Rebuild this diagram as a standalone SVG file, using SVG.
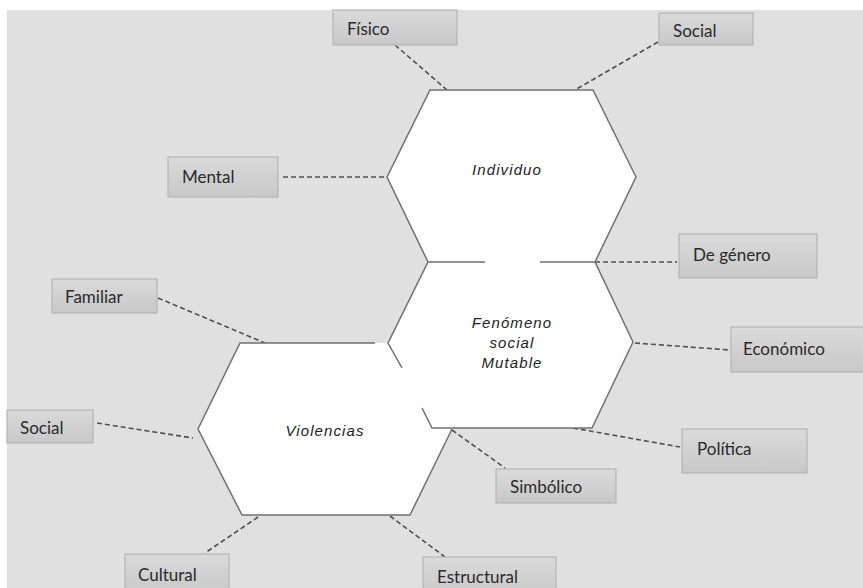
<svg xmlns="http://www.w3.org/2000/svg" width="863" height="588" viewBox="0 0 863 588">
<defs>
<linearGradient id="boxg" x1="0" y1="0" x2="0" y2="1">
<stop offset="0" stop-color="#dadada"/>
<stop offset="1" stop-color="#c8c8c8"/>
</linearGradient>
<style>
.box{fill:url(#boxg);stroke:#b5b5b5;stroke-width:1.2}
.lbl{font-family:Lato,"Open Sans","Liberation Sans",sans-serif;font-size:17px;fill:#2a2a2a}
.hexfill{fill:#ffffff;stroke:none}
.hexline{fill:none;stroke:#707070;stroke-width:1.5;stroke-linejoin:miter}
.hlbl{font-family:"Liberation Sans",Arial,sans-serif;font-style:italic;font-size:15px;fill:#222;text-anchor:middle;letter-spacing:1.1px}
.con{stroke:#505050;stroke-width:1.6;stroke-dasharray:5,3;fill:none}
</style>
</defs>
<rect x="0" y="0" width="863" height="588" fill="#ffffff"/>
<rect x="7" y="10" width="856" height="578" fill="#e0e0e0"/>

<g id="connectors">
<line class="con" x1="395" y1="45" x2="447" y2="90"/>
<line class="con" x1="658" y1="42" x2="575" y2="90"/>
<line class="con" x1="283" y1="177" x2="387" y2="177"/>
<line class="con" x1="595" y1="262" x2="677" y2="262"/>
<line class="con" x1="635" y1="343" x2="730" y2="350"/>
<line class="con" x1="158" y1="298" x2="265" y2="343"/>
<line class="con" x1="97" y1="423" x2="193" y2="438"/>
<line class="con" x1="258" y1="517" x2="205" y2="553"/>
<line class="con" x1="390" y1="516" x2="445" y2="557"/>
<line class="con" x1="452" y1="430" x2="505" y2="468"/>
<line class="con" x1="573" y1="428" x2="680" y2="447"/>
</g>

<g id="violencias">
<polygon class="hexfill" points="240,343 410,343 452,429 410,515 242,515 198,429"/>
</g>
<g id="fenomeno">
<polygon class="hexfill" points="428,262 595,262 633,342 592,428 432,428 388,343"/>
</g>
<g id="individuo">
<polygon class="hexfill" points="430,90 593,90 636,177 595,262 428,262 387,177"/>
</g>

<g id="outlines">
<polyline class="hexline" points="375,343 240,343 198,429 242,515 410,515 452,429"/>
<polyline class="hexline" points="402,368 388,343 428,262 485,262"/>
<polyline class="hexline" points="540,262 595,262 633,342 592,428 432,428 422,408"/>
<polyline class="hexline" points="428,262 387,177 430,90 593,90 636,177 595,262"/>
</g>

<g id="labels-hex">
<text class="hlbl" x="507" y="175">Individuo</text>
<text class="hlbl" x="512" y="328">Fenómeno</text>
<text class="hlbl" x="512" y="348">social</text>
<text class="hlbl" x="512" y="368">Mutable</text>
<text class="hlbl" x="325" y="436">Violencias</text>
</g>

<g id="fisico"><rect class="box" x="333" y="10" width="124" height="35"/><text class="lbl" x="347" y="35">Físico</text></g>
<g id="social-top"><rect class="box" x="659" y="13" width="94" height="32"/><text class="lbl" x="673" y="37">Social</text></g>
<g id="mental"><rect class="box" x="168" y="157" width="110" height="40"/><text class="lbl" x="182" y="183">Mental</text></g>
<g id="degenero"><rect class="box" x="679" y="234" width="138" height="44"/><text class="lbl" x="693" y="261">De género</text></g>
<g id="economico"><rect class="box" x="731" y="327" width="135" height="45"/><text class="lbl" x="743" y="355">Económico</text></g>
<g id="familiar"><rect class="box" x="52" y="279" width="105" height="34"/><text class="lbl" x="65" y="303">Familiar</text></g>
<g id="social-left"><rect class="box" x="7" y="410" width="86" height="33"/><text class="lbl" x="20" y="434">Social</text></g>
<g id="cultural"><rect class="box" x="125" y="554" width="104" height="40"/><text class="lbl" x="138" y="581">Cultural</text></g>
<g id="estructural"><rect class="box" x="423" y="557" width="133" height="40"/><text class="lbl" x="437" y="583">Estructural</text></g>
<g id="simbolico"><rect class="box" x="496" y="469" width="120" height="34"/><text class="lbl" x="510" y="493">Simbólico</text></g>
<g id="politica"><rect class="box" x="682" y="429" width="125" height="44"/><text class="lbl" x="697" y="455">Política</text></g>
</svg>
